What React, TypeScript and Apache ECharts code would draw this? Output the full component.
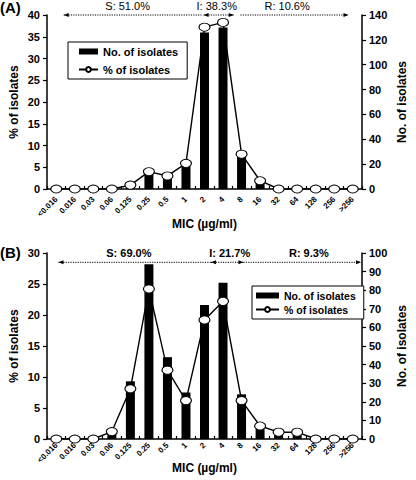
import React, { useEffect, useRef } from "react";
import * as echarts from "echarts";

const categories = ["<0.016", "0.016", "0.03", "0.06", "0.125", "0.25", "0.5", "1", "2", "4", "8", "16", "32", "64", "128", "256", ">256"];

// Panel A
const isolatesA = [0, 0, 0, 0, 3, 14, 10, 20, 126, 130, 28, 7, 0, 0, 0, 0, 0];
const percentA = [0, 0, 0, 0, 0.9, 4.0, 3.0, 5.9, 37.2, 38.3, 8.0, 1.9, 0, 0, 0, 0, 0];
const leftTicksA = { min: 0, max: 40, interval: 5 };
const rightTicksA = { min: 0, max: 140, interval: 20 };
const rangesA = [
  { label: "S: 51.0%", from: 0.4, to: 7.84, labelAt: 3.85, heads: ["start"] },
  { label: "I: 38.3%", from: 7.95, to: 9.58, labelAt: 8.66, heads: ["start", "end"] },
  { label: "R: 10.6%", from: 9.94, to: 15.77, labelAt: 12.46, heads: ["end"] },
];

// Panel B
const isolatesB = [0, 0, 0, 3, 31, 94, 44, 25, 72, 84, 24, 6, 3, 3, 0, 0, 0];
const percentB = [0, 0, 0, 1.2, 8.1, 24.2, 11.1, 6.2, 19.2, 22.2, 6.2, 2.1, 1.1, 1.1, 0, 0, 0];
const leftTicksB = { min: 0, max: 30, interval: 5 };
const rightTicksB = { min: 0, max: 100, interval: 10 };
const rangesB = [
  { label: "S: 69.0%", from: 0.12, to: 8.35, labelAt: 3.92, heads: ["start"] },
  { label: "I: 21.7%", from: 8.35, to: 10.1, labelAt: 9.36, heads: ["start", "end"] },
  { label: "R: 9.3%", from: 10.1, to: 16.45, labelAt: 13.63, heads: ["end"] },
];

const xTitle = "MIC (µg/ml)";
const FONT = "'Liberation Sans', Arial, Helvetica, sans-serif";

export default function App() {
  const ref = useRef<HTMLDivElement>(null);

  useEffect(() => {
    if (!ref.current) return;
    const chart = echarts.init(ref.current, null, { renderer: "svg" });

    const axisLine = { show: true, lineStyle: { color: "#000", width: 1.5 } };
    const yLabel = { color: "#000", fontSize: 11, fontWeight: "bold" as const, fontFamily: FONT };
    const nameStyle = { color: "#000", fontSize: 12, fontWeight: "bold" as const, fontFamily: FONT };

    const mkY = (grid: number, t: any, pos: "left" | "right", name: string, gap: number) => ({
      gridIndex: grid,
      type: "value",
      position: pos,
      min: t.min,
      max: t.max,
      interval: t.interval,
      name,
      nameLocation: "middle",
      nameGap: gap,
      nameMoveOverlap: false,
      nameTextStyle: nameStyle,
      axisLine,
      axisTick: { show: true, inside: false, length: 4, lineStyle: { color: "#000", width: 1.2 } },
      axisLabel: { ...yLabel, margin: 7 },
      splitLine: { show: false },
    });

    const mkX = (grid: number, margin: number) => ({
      gridIndex: grid,
      type: "category",
      data: categories,
      boundaryGap: true,
      axisLine,
      axisTick: { show: true, inside: true, length: 3, alignWithLabel: false, lineStyle: { color: "#000", width: 1.2 } },
      axisLabel: { color: "#000", fontSize: 8, fontWeight: "bold", fontFamily: FONT, rotate: 45, interval: 0, margin },
      splitLine: { show: false },
    });

    const lineSeries = (name: string, data: number[], xi: number, yi: number) => ({
      name,
      type: "line",
      xAxisIndex: xi,
      yAxisIndex: yi,
      data,
      z: 5,
      symbol: "circle",
      symbolSize: [11, 8],
      showAllSymbol: true,
      lineStyle: { color: "#000", width: 1.4 },
      itemStyle: { color: "#fff", borderColor: "#000", borderWidth: 1 },
    });

    const barSeries = (name: string, data: number[], xi: number, yi: number) => ({
      name,
      type: "bar",
      xAxisIndex: xi,
      yAxisIndex: yi,
      data,
      barWidth: 9,
      z: 2,
      itemStyle: { color: "#000" },
    });

    const legendBase = {
      orient: "vertical",
      borderColor: "#000",
      borderWidth: 1,
      backgroundColor: "#fff",
      selectedMode: false,
      itemHeight: 6,
      textStyle: { color: "#000", fontWeight: "bold", fontFamily: FONT },
      data: [
        { name: "No. of isolates", icon: "rect" },
        { name: "% of isolates" },
      ],
    };

    const option: any = {
      animation: false,
      backgroundColor: "#fff",
      textStyle: { fontFamily: FONT },
      title: [
        { text: "(A)", left: 0, top: 0, padding: 0, textStyle: { fontSize: 15, fontWeight: "bold", color: "#000", fontFamily: FONT } },
        { text: "(B)", left: 0, top: 245, padding: 0, textStyle: { fontSize: 15, fontWeight: "bold", color: "#000", fontFamily: FONT } },
      ],
      legend: [
        { ...legendBase, left: 68, top: 42, padding: [4, 9, 4, 10], itemGap: 7, itemWidth: 19, textStyle: { ...legendBase.textStyle, fontSize: 11 } },
        { ...legendBase, left: 252, top: 286, padding: [4, 8, 4, 3], itemGap: 3, itemWidth: 23, textStyle: { ...legendBase.textStyle, fontSize: 10.5 } },
      ],
      grid: [
        { left: 45, right: 39, top: 15, height: 174 },
        { left: 45, right: 40, top: 253, height: 186 },
      ],
      xAxis: [mkX(0, 9), mkX(1, 5)],
      yAxis: [
        mkY(0, leftTicksA, "left", "% of isolates", 27),
        mkY(0, rightTicksA, "right", "No. of isolates", 34),
        mkY(1, leftTicksB, "left", "% of isolates", 27),
        mkY(1, rightTicksB, "right", "No. of isolates", 34),
      ],
      series: [
        barSeries("No. of isolates", isolatesA, 0, 1),
        lineSeries("% of isolates", percentA, 0, 0),
        barSeries("No. of isolates", isolatesB, 1, 3),
        lineSeries("% of isolates", percentB, 1, 2),
      ],
    };
    chart.setOption(option);

    const graphics: any[] = [];
    const addRanges = (ranges: any[], xi: number, yi: number, yVal: number, bold: boolean, titleOffset: number) => {
      const p0 = chart.convertToPixel({ xAxisIndex: xi }, categories[0]) as number;
      const p1 = chart.convertToPixel({ xAxisIndex: xi }, categories[1]) as number;
      const y = chart.convertToPixel({ yAxisIndex: yi }, yVal) as number;
      const y0 = chart.convertToPixel({ yAxisIndex: yi }, 0) as number;
      const px = (i: number) => p0 + i * (p1 - p0);
      ranges.forEach((r) => {
        const x1 = px(r.from);
        const x2 = px(r.to);
        graphics.push({
          type: "line",
          silent: true,
          shape: { x1, y1: y, x2, y2: y },
          style: { stroke: "#000", lineWidth: 1, lineDash: [1.2, 1.2] },
        });
        if (r.heads.includes("start")) {
          graphics.push({ type: "polygon", silent: true, shape: { points: [[x1, y], [x1 + 5, y - 2], [x1 + 5, y + 2]] }, style: { fill: "#000" } });
        }
        if (r.heads.includes("end")) {
          graphics.push({ type: "polygon", silent: true, shape: { points: [[x2, y], [x2 - 5, y - 2], [x2 - 5, y + 2]] }, style: { fill: "#000" } });
        }
        graphics.push({
          type: "text",
          silent: true,
          x: px(r.labelAt),
          y: y - 9,
          style: {
            text: r.label,
            fill: "#000",
            fontSize: 11,
            fontWeight: bold ? "bold" : "normal",
            fontFamily: FONT,
            align: "center",
            verticalAlign: "middle",
          },
        });
      });
      // x-axis title
      graphics.push({
        type: "text",
        silent: true,
        x: px((categories.length - 1) / 2),
        y: y0 + titleOffset,
        style: {
          text: xTitle,
          fill: "#000",
          fontSize: 12,
          fontWeight: "bold",
          fontFamily: FONT,
          align: "center",
          verticalAlign: "middle",
        },
      });
    };
    addRanges(rangesA, 0, 0, 40, false, 35);
    addRanges(rangesB, 1, 2, 28.5, true, 29);
    chart.setOption({ graphic: graphics });

    return () => chart.dispose();
  }, []);

  return <div ref={ref} style={{ width: 416, height: 480, position: "absolute", left: 0, top: 0 }} />;
}
